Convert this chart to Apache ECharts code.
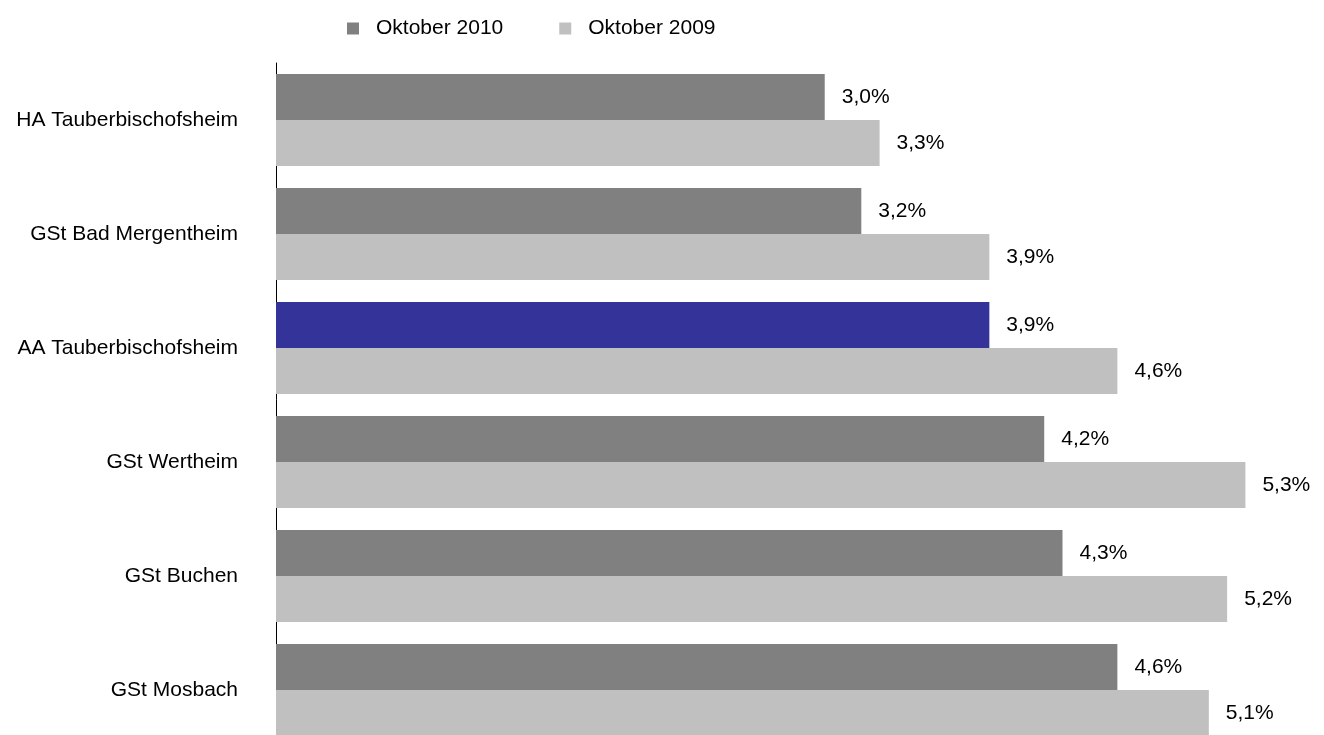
<!DOCTYPE html>
<html>
<head>
<meta charset="utf-8">
<script src="https://cdn.jsdelivr.net/npm/echarts@6/dist/echarts.min.js"></script>
<style>
  html, body { margin: 0; padding: 0; background: #fff; }
  #chart { width: 1324px; height: 735px; }
</style>
</head>
<body>
<div id="chart"></div>
<script>
const categories = ['HA Tauberbischofsheim', 'GSt Bad Mergentheim', 'AA Tauberbischofsheim', 'GSt Wertheim', 'GSt Buchen', 'GSt Mosbach']
const okt2010 = [3.0, 3.2, 3.9, 4.2, 4.3, 4.6]
const okt2009 = [3.3, 3.9, 4.6, 5.3, 5.2, 5.1]
const highlightIndex = 2 // AA Tauberbischofsheim in blau

const FONT = "'Liberation Sans', Arial, sans-serif"

const chart = echarts.init(document.getElementById('chart'))

const fmt = (p) => p.value.toFixed(1).replace('.', ',') + '%'

const labelStyle = {
  show: true,
  position: 'right',
  distance: 17,
  color: '#000',
  fontSize: 21,
  fontFamily: FONT,
  formatter: fmt
}

chart.setOption({
  animation: false,
  textStyle: { fontFamily: FONT },
  legend: {
    top: 13,
    left: 342,
    itemWidth: 12,
    itemHeight: 12,
    itemGap: 56,
    icon: 'rect',
    textStyle: { fontSize: 21, color: '#000', fontFamily: FONT, padding: [0, 0, 0, 12] },
    data: ['Oktober 2010', 'Oktober 2009']
  },
  grid: { left: 276, top: 63, right: 42, height: 684, outerBoundsMode: 'none', containLabel: false },
  xAxis: {
    type: 'value',
    min: 0,
    max: 5.5,
    show: false
  },
  yAxis: {
    type: 'category',
    inverse: true,
    data: categories,
    axisLine: { show: true, lineStyle: { color: '#000', width: 1 } },
    axisTick: { show: false },
    axisLabel: { fontSize: 21, color: '#000', fontFamily: FONT, margin: 38 }
  },
  series: [
    {
      name: 'Oktober 2010',
      type: 'bar',
      barWidth: 46,
      barGap: '0%',
      itemStyle: { color: '#808080' },
      label: labelStyle,
      data: okt2010.map((v, i) => i === highlightIndex ? { value: v, itemStyle: { color: '#333399' } } : v)
    },
    {
      name: 'Oktober 2009',
      type: 'bar',
      barWidth: 46,
      barGap: '0%',
      itemStyle: { color: '#c0c0c0' },
      label: labelStyle,
      data: okt2009
    }
  ]
})
</script>
</body>
</html>
